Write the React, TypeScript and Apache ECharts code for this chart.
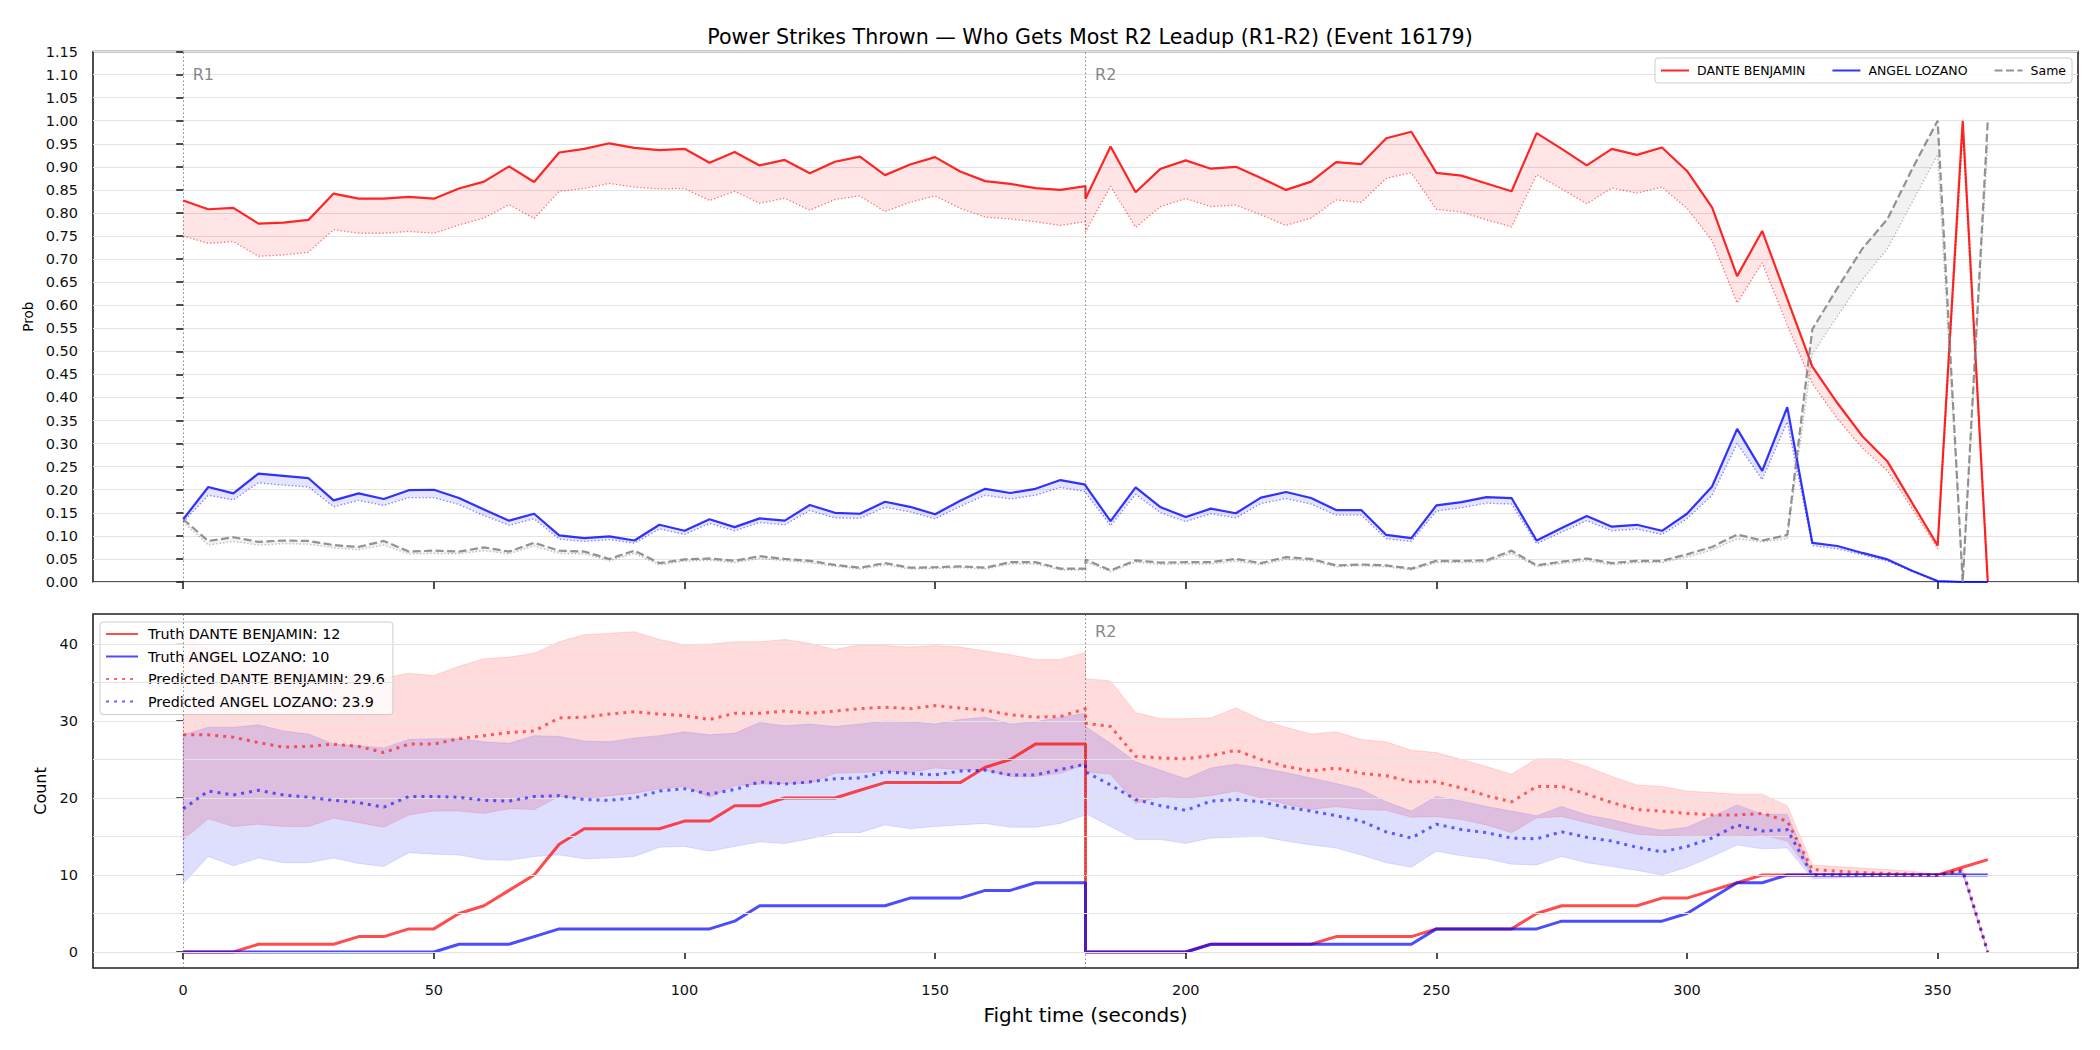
import React, { useEffect, useRef } from "react";
import * as echarts from "echarts";

// ---- Time axis: R1 samples (0..180) followed by R2 samples (180..360) ----
const TIMES = [
  0, 5, 10, 15, 20, 25, 30, 35, 40, 45, 50, 55, 60, 65, 70, 75, 80, 85, 90, 95, 100, 105, 110, 115, 120, 125, 130, 135, 140, 145, 150, 155, 160, 165, 170, 175, 180,
  180, 185, 190, 195, 200, 205, 210, 215, 220, 225, 230, 235, 240, 245, 250, 255, 260, 265, 270, 275, 280, 285, 290, 295, 300, 305, 310, 315, 320, 325, 330, 335, 340, 345, 350, 355, 360,
];

// ---- Top panel: win probabilities (upper line + lower dotted bound) ----
const PROB_DANTE = [
  0.827, 0.808, 0.811, 0.777, 0.779, 0.785, 0.842, 0.831, 0.831, 0.835, 0.831, 0.853, 0.868, 0.901, 0.867, 0.931, 0.939, 0.951, 0.941, 0.936, 0.939, 0.909, 0.932, 0.903, 0.915, 0.886, 0.911, 0.922, 0.882, 0.905, 0.921, 0.890, 0.869, 0.863, 0.854, 0.850, 0.858,
  0.831, 0.944, 0.845, 0.896, 0.914, 0.896, 0.900, 0.876, 0.850, 0.868, 0.910, 0.906, 0.962, 0.976, 0.887, 0.881, 0.864, 0.847, 0.973, 0.939, 0.903, 0.939, 0.926, 0.942, 0.891, 0.812, 0.663, 0.761, 0.614, 0.467, 0.388, 0.316, 0.261, 0.170, 0.079, 1.0, 0.0,
];
const PROB_DANTE_LO = [
  0.750, 0.734, 0.738, 0.706, 0.709, 0.715, 0.764, 0.756, 0.756, 0.760, 0.756, 0.774, 0.789, 0.818, 0.788, 0.847, 0.853, 0.864, 0.856, 0.852, 0.853, 0.827, 0.847, 0.821, 0.832, 0.806, 0.829, 0.837, 0.803, 0.823, 0.837, 0.810, 0.791, 0.787, 0.781, 0.773, 0.781,
  0.759, 0.858, 0.769, 0.814, 0.831, 0.814, 0.817, 0.796, 0.773, 0.789, 0.828, 0.823, 0.875, 0.887, 0.808, 0.802, 0.785, 0.770, 0.883, 0.852, 0.820, 0.854, 0.843, 0.856, 0.810, 0.740, 0.605, 0.692, 0.557, 0.430, 0.354, 0.290, 0.241, 0.158, 0.072, 0.970, 0.0,
];
const PROB_ANGEL = [
  0.136, 0.206, 0.192, 0.235, 0.230, 0.225, 0.177, 0.192, 0.180, 0.199, 0.200, 0.182, 0.157, 0.133, 0.148, 0.101, 0.095, 0.099, 0.090, 0.124, 0.111, 0.136, 0.119, 0.138, 0.133, 0.167, 0.150, 0.148, 0.174, 0.163, 0.147, 0.176, 0.202, 0.193, 0.202, 0.221, 0.211,
  0.209, 0.132, 0.205, 0.162, 0.141, 0.159, 0.149, 0.183, 0.195, 0.182, 0.156, 0.156, 0.102, 0.095, 0.166, 0.173, 0.184, 0.182, 0.090, 0.117, 0.143, 0.120, 0.124, 0.111, 0.148, 0.207, 0.332, 0.241, 0.379, 0.085, 0.078, 0.063, 0.049, 0.024, 0.002, 0.0, 0.0,
];
const PROB_ANGEL_LO = [
  0.130, 0.188, 0.178, 0.215, 0.210, 0.206, 0.163, 0.177, 0.166, 0.183, 0.183, 0.168, 0.144, 0.123, 0.137, 0.093, 0.088, 0.092, 0.084, 0.115, 0.103, 0.127, 0.111, 0.129, 0.124, 0.155, 0.139, 0.138, 0.162, 0.152, 0.137, 0.164, 0.188, 0.180, 0.188, 0.205, 0.196,
  0.194, 0.122, 0.190, 0.150, 0.131, 0.148, 0.139, 0.170, 0.181, 0.169, 0.145, 0.145, 0.094, 0.088, 0.154, 0.161, 0.171, 0.169, 0.083, 0.108, 0.133, 0.111, 0.115, 0.103, 0.137, 0.188, 0.300, 0.222, 0.347, 0.079, 0.072, 0.059, 0.045, 0.023, 0.0, 0.0, 0.0,
];
const PROB_SAME = [
  0.136, 0.089, 0.097, 0.087, 0.090, 0.089, 0.080, 0.076, 0.089, 0.066, 0.068, 0.066, 0.075, 0.066, 0.085, 0.068, 0.066, 0.050, 0.068, 0.041, 0.049, 0.051, 0.046, 0.056, 0.050, 0.046, 0.037, 0.031, 0.041, 0.031, 0.032, 0.034, 0.031, 0.043, 0.043, 0.029, 0.029,
  0.049, 0.025, 0.047, 0.042, 0.043, 0.043, 0.050, 0.041, 0.054, 0.050, 0.036, 0.038, 0.036, 0.029, 0.046, 0.046, 0.047, 0.068, 0.036, 0.044, 0.051, 0.041, 0.046, 0.046, 0.060, 0.076, 0.103, 0.090, 0.102, 0.548, 0.637, 0.723, 0.787, 0.897, 1.0, 0.0, 1.0,
];
const PROB_SAME_LO = [
  0.130, 0.080, 0.088, 0.080, 0.083, 0.082, 0.074, 0.070, 0.080, 0.061, 0.062, 0.061, 0.068, 0.061, 0.078, 0.062, 0.061, 0.046, 0.062, 0.037, 0.045, 0.047, 0.042, 0.051, 0.046, 0.042, 0.034, 0.028, 0.037, 0.028, 0.029, 0.031, 0.028, 0.039, 0.039, 0.026, 0.026,
  0.044, 0.022, 0.043, 0.038, 0.039, 0.039, 0.045, 0.037, 0.049, 0.046, 0.033, 0.035, 0.033, 0.026, 0.042, 0.042, 0.043, 0.062, 0.033, 0.040, 0.046, 0.037, 0.042, 0.042, 0.054, 0.069, 0.094, 0.087, 0.094, 0.494, 0.576, 0.656, 0.723, 0.825, 0.927, 0.0, 0.950,
];

// ---- Bottom panel: cumulative counts ----
const TRUTH_DANTE = [
  0, 0, 0, 1, 1, 1, 1, 2, 2, 3, 3, 5, 6, 8, 10, 14, 16, 16, 16, 16, 17, 17, 19, 19, 20, 20, 20, 21, 22, 22, 22, 22, 24, 25, 27, 27, 27,
  0, 0, 0, 0, 0, 1, 1, 1, 1, 1, 2, 2, 2, 2, 3, 3, 3, 3, 5, 6, 6, 6, 6, 7, 7, 8, 9, 10, 10, 10, 10, 10, 10, 10, 10, 11, 12,
];
const TRUTH_ANGEL = [
  0, 0, 0, 0, 0, 0, 0, 0, 0, 0, 0, 1, 1, 1, 2, 3, 3, 3, 3, 3, 3, 3, 4, 6, 6, 6, 6, 6, 6, 7, 7, 7, 8, 8, 9, 9, 9,
  0, 0, 0, 0, 0, 1, 1, 1, 1, 1, 1, 1, 1, 1, 3, 3, 3, 3, 3, 4, 4, 4, 4, 4, 5, 7, 9, 9, 10, 10, 10, 10, 10, 10, 10, 10, 10,
];
const PRED_DANTE = [
  28.2, 28.2, 27.9, 27.2, 26.6, 26.7, 27.0, 26.7, 25.9, 27.0, 27.0, 27.7, 28.1, 28.5, 28.7, 30.4, 30.5, 30.9, 31.2, 30.9, 30.7, 30.2, 31.0, 31.0, 31.3, 31.0, 31.3, 31.6, 31.8, 31.6, 32.0, 31.7, 31.4, 30.8, 30.5, 30.6, 31.6,
  29.7, 29.3, 25.4, 25.2, 25.1, 25.5, 26.2, 25.0, 24.1, 23.5, 23.9, 23.2, 22.9, 22.1, 22.1, 21.3, 20.3, 19.5, 21.5, 21.5, 20.5, 19.4, 18.5, 18.3, 18.0, 17.8, 17.8, 18.0, 17.0, 10.7, 10.5, 10.3, 10.2, 10.1, 10.0, 10.7, 0,
];
const PRED_ANGEL = [
  18.6, 20.9, 20.4, 21.0, 20.4, 20.1, 19.7, 19.4, 18.8, 20.2, 20.2, 20.1, 19.7, 19.6, 20.2, 20.3, 19.8, 19.7, 20.0, 20.9, 21.2, 20.5, 21.1, 22.1, 21.8, 22.1, 22.5, 22.6, 23.4, 23.2, 23.0, 23.5, 23.6, 23.0, 23.0, 23.7, 24.4,
  23.4, 21.7, 19.8, 19.0, 18.4, 19.6, 19.8, 19.5, 18.8, 18.3, 17.7, 17.0, 15.6, 14.8, 16.6, 15.9, 15.5, 14.8, 14.7, 15.6, 14.9, 14.4, 13.6, 13.0, 13.7, 14.8, 16.5, 15.7, 15.9, 10.0, 10.0, 10.0, 10.0, 10.0, 10.0, 10.5, 0,
];
const PRED_DANTE_HI = [
  41.0, 39.5, 38.6, 38.0, 37.4, 37.0, 36.4, 35.6, 35.6, 36.2, 35.9, 37.1, 38.1, 38.3, 38.8, 40.3, 41.2, 41.4, 41.6, 40.6, 39.9, 40.0, 40.3, 40.3, 40.6, 40.1, 39.3, 39.9, 39.8, 39.6, 39.8, 39.6, 39.1, 38.6, 38.0, 38.0, 38.9,
  35.5, 35.2, 31.1, 30.3, 30.3, 30.4, 31.7, 30.2, 29.2, 28.3, 28.6, 27.6, 27.3, 26.2, 25.9, 25.0, 24.1, 23.1, 25.1, 25.1, 24.1, 22.8, 21.7, 21.5, 20.9, 20.7, 20.5, 20.5, 19.0, 11.3, 11.1, 10.9, 10.7, 10.5, 10.1, 10.8, 0,
];
const PRED_DANTE_LO = [
  14.6, 17.3, 16.3, 16.6, 16.3, 16.3, 17.4, 16.8, 16.2, 17.8, 18.3, 18.3, 18.0, 18.6, 18.5, 20.2, 19.9, 20.3, 20.6, 21.2, 21.5, 20.1, 21.6, 21.8, 21.9, 21.9, 23.2, 23.3, 23.5, 23.3, 23.9, 23.7, 23.6, 22.8, 22.8, 23.2, 24.4,
  23.4, 23.1, 19.3, 20.2, 20.0, 20.3, 20.9, 20.0, 19.2, 18.5, 18.9, 18.5, 18.4, 17.5, 17.6, 17.2, 16.5, 15.5, 17.4, 17.6, 16.8, 16.0, 15.3, 15.1, 15.0, 15.0, 15.0, 15.2, 14.4, 10.0, 10.0, 10.0, 10.0, 10.0, 10.0, 10.3, 0,
];
const PRED_ANGEL_HI = [
  28.2, 29.2, 29.2, 29.5, 28.7, 28.3, 27.0, 26.8, 26.5, 27.6, 27.7, 27.7, 27.3, 27.1, 28.1, 28.0, 27.4, 27.3, 27.8, 28.1, 28.6, 28.2, 28.4, 29.8, 29.4, 29.6, 29.3, 29.6, 30.0, 29.9, 29.6, 30.2, 30.5, 29.6, 29.9, 30.5, 31.0,
  29.3, 27.1, 24.7, 23.6, 22.5, 23.9, 24.4, 23.9, 23.3, 22.6, 21.9, 21.1, 19.5, 18.3, 20.2, 19.6, 18.9, 18.3, 17.7, 18.9, 17.8, 17.2, 16.4, 15.8, 16.2, 17.6, 19.1, 17.9, 17.9, 10.2, 10.2, 10.2, 10.2, 10.2, 10.2, 10.3, 0,
];
const PRED_ANGEL_LO = [
  8.9, 12.4, 11.2, 12.2, 11.6, 11.6, 12.2, 11.5, 11.1, 12.9, 12.7, 12.6, 12.0, 11.9, 12.4, 12.6, 12.1, 12.2, 12.4, 13.6, 13.7, 13.1, 13.7, 14.3, 14.1, 14.7, 15.5, 15.5, 16.5, 16.0, 16.3, 16.5, 16.7, 16.2, 16.2, 16.7, 17.8,
  18.0, 16.3, 14.6, 14.6, 14.1, 14.8, 14.9, 15.0, 14.4, 13.9, 13.5, 12.6, 11.6, 11.0, 13.1, 12.5, 12.1, 11.4, 11.3, 12.4, 11.6, 11.1, 10.6, 10.0, 11.0, 12.4, 13.9, 13.4, 13.5, 9.5, 9.6, 9.7, 9.8, 9.8, 9.9, 10.0, 0,
];

const FIGHTERS = ["DANTE BENJAMIN", "ANGEL LOZANO"];
const SAME_LABEL = "Same";
const PRED_TOTALS = [29.6, 23.9];
const ROUNDS = [
  { label: "R1", t: 0 },
  { label: "R2", t: 180 },
];
const X_TICKS = [0, 50, 100, 150, 200, 250, 300, 350];
const COUNT_TICKS = [0, 10, 20, 30, 40];
const COUNT_GRID = [0, 5, 10, 15, 20, 25, 30, 35, 40];
const TITLE = "Power Strikes Thrown \u2014 Who Gets Most R2 Leadup (R1-R2) (Event 16179)";

// ---- styling ----
const FONT = "DejaVu Sans";
const X_RANGE = [-18, 378];
const PROB_RANGE = [0, 1.15];
const COUNT_RANGE = [-2.08, 43.9];
const ROUND_LABEL_DX = 2; // seconds to the right of the marker line
const ROUND_LABEL_Y = [1.116, 42.6]; // label top, per panel
const AXIS_DARK = "#222222";
const GRID_COLOR = "#e3e3e3";

const pairs = (ys: number[]) => TIMES.map((t, i) => [t, ys[i]]);

function line(name: string, panel: number, ys: number[], color: string, width: number, type: any, z: number) {
  return {
    type: "line",
    name,
    xAxisIndex: panel,
    yAxisIndex: panel,
    data: pairs(ys),
    symbol: "none",
    showSymbol: false,
    silent: true,
    z,
    lineStyle: { color, width, type },
    itemStyle: { color },
  };
}

function band(name: string, panel: number, upper: number[], lower: number[], fill: string, stroke: string | null) {
  return {
    type: "custom",
    name,
    xAxisIndex: panel,
    yAxisIndex: panel,
    silent: true,
    z: 1,
    data: [[TIMES[0], lower[0]]],
    encode: { x: 0, y: 1 },
    renderItem: (params: any, api: any) => {
      if (params.dataIndex !== 0) return null;
      const pts: number[][] = [];
      for (let i = 0; i < TIMES.length; i++) pts.push(api.coord([TIMES[i], upper[i]]));
      for (let i = TIMES.length - 1; i >= 0; i--) pts.push(api.coord([TIMES[i], lower[i]]));
      return {
        type: "polygon",
        shape: { points: pts },
        style: stroke ? { fill, stroke, lineWidth: 1 } : { fill, stroke: "none" },
      };
    },
  };
}

// Round marker lines, their labels, and (bottom panel) the horizontal grid.
function guides(panel: number, labelled: string[], withGrid: boolean) {
  const roundLine = { color: "rgba(70,70,70,0.65)", width: 1, type: [1.5, 2.5] };
  const gridLine = { color: GRID_COLOR, width: 1, type: "solid" };
  const markData: any[] = ROUNDS.map((r) => ({ xAxis: r.t, lineStyle: roundLine }));
  if (withGrid) COUNT_GRID.forEach((v) => markData.unshift({ yAxis: v, lineStyle: gridLine }));
  return {
    type: "scatter",
    name: "guides-" + panel,
    xAxisIndex: panel,
    yAxisIndex: panel,
    silent: true,
    z: 2,
    symbolSize: 1,
    itemStyle: { color: "rgba(0,0,0,0)" },
    data: ROUNDS.filter((r) => labelled.includes(r.label)).map((r) => ({
      value: [r.t + ROUND_LABEL_DX, ROUND_LABEL_Y[panel]],
      label: { formatter: r.label },
    })),
    label: {
      show: true,
      position: [0, 0],
      align: "left",
      verticalAlign: "top",
      color: "#666666",
      fontSize: 16,
      fontFamily: FONT,
    },
    markLine: {
      silent: true,
      symbol: ["none", "none"],
      label: { show: false },
      emphasis: { disabled: true },
      data: markData,
    },
  };
}

function buildOption() {
  const truthNames = FIGHTERS.map((f, i) => `Truth ${f}: ${[TRUTH_DANTE, TRUTH_ANGEL][i][TIMES.length - 1]}`);
  const predNames = FIGHTERS.map((f, i) => `Predicted ${f}: ${PRED_TOTALS[i].toFixed(1)}`);

  const tick = { show: true, length: 7, lineStyle: { color: AXIS_DARK, width: 1.6 } };
  const label = { color: "#111111", fontSize: 14.5, fontFamily: FONT };
  const legendBox = {
    backgroundColor: "rgba(255,255,255,0.8)",
    borderColor: "#cccccc",
    borderWidth: 1,
    borderRadius: 3,
    selectedMode: false,
    itemHeight: 2,
    itemStyle: { opacity: 0 },
  };

  return {
    animation: false,
    backgroundColor: "#ffffff",
    textStyle: { fontFamily: FONT },
    title: {
      text: TITLE,
      left: 1085,
      textAlign: "center",
      top: 21,
      textStyle: { fontSize: 20.6, fontWeight: "normal", color: "#000000", fontFamily: FONT },
    },
    grid: [
      { left: 93, right: 22, top: 51.5, height: 530.5, show: true, borderColor: AXIS_DARK, borderWidth: 1.6, backgroundColor: "transparent" },
      { left: 93, right: 22, top: 614, height: 354, show: true, borderColor: AXIS_DARK, borderWidth: 1.6, backgroundColor: "transparent" },
    ],
    xAxis: [
      {
        type: "value", gridIndex: 0, min: X_RANGE[0], max: X_RANGE[1],
        axisLine: { show: false }, splitLine: { show: false },
        axisTick: { ...tick, customValues: X_TICKS },
        axisLabel: { show: false, customValues: X_TICKS },
      },
      {
        type: "value", gridIndex: 1, min: X_RANGE[0], max: X_RANGE[1],
        axisLine: { show: false }, splitLine: { show: false },
        axisTick: { ...tick, customValues: X_TICKS },
        axisLabel: { ...label, margin: 14, customValues: X_TICKS },
        name: "Fight time (seconds)", nameLocation: "middle", nameGap: 37,
        nameTextStyle: { fontSize: 20, color: "#000000", fontFamily: FONT },
      },
    ],
    yAxis: [
      {
        type: "value", gridIndex: 0, min: PROB_RANGE[0], max: PROB_RANGE[1], interval: 0.05,
        axisLine: { show: false },
        splitLine: { show: true, lineStyle: { color: GRID_COLOR, width: 1 } },
        axisTick: tick,
        axisLabel: { ...label, margin: 15, formatter: (v: number) => v.toFixed(2) },
        name: "Prob", nameLocation: "middle", nameGap: 57,
        nameTextStyle: { fontSize: 13.5, color: "#000000", fontFamily: FONT },
      },
      {
        type: "value", gridIndex: 1, min: COUNT_RANGE[0], max: COUNT_RANGE[1],
        axisLine: { show: false }, splitLine: { show: false },
        axisTick: { ...tick, customValues: COUNT_TICKS },
        axisLabel: { ...label, margin: 15, customValues: COUNT_TICKS },
        name: "Count", nameLocation: "middle", nameGap: 44,
        nameTextStyle: { fontSize: 16, color: "#000000", fontFamily: FONT },
      },
    ],
    legend: [
      {
        ...legendBox,
        data: [...FIGHTERS, SAME_LABEL],
        orient: "horizontal",
        right: 28,
        top: 58,
        itemWidth: 28,
        itemGap: 26,
        padding: [6, 6, 6, 5],
        textStyle: { fontSize: 12.5, color: "#000000", fontFamily: FONT, padding: [0, 0, 0, 3] },
      },
      {
        ...legendBox,
        data: [...truthNames, ...predNames],
        orient: "vertical",
        left: 100,
        top: 622,
        itemWidth: 32,
        itemGap: 8.5,
        padding: [5, 8, 6, 5],
        textStyle: { fontSize: 14.3, color: "#000000", fontFamily: FONT, padding: [0, 0, 0, 5] },
      },
    ],
    series: [
      // top panel
      band("band-dante", 0, PROB_DANTE, PROB_DANTE_LO, "rgba(255,0,0,0.1)", null),
      band("band-angel", 0, PROB_ANGEL, PROB_ANGEL_LO, "rgba(0,0,255,0.1)", null),
      band("band-same", 0, PROB_SAME, PROB_SAME_LO, "rgba(128,128,128,0.1)", null),
      guides(0, ["R1", "R2"], false),
      line(FIGHTERS[0], 0, PROB_DANTE, "rgba(255,0,0,0.85)", 2.2, "solid", 4),
      line(FIGHTERS[0] + " lower", 0, PROB_DANTE_LO, "rgba(255,0,0,0.55)", 1.3, [1.3, 2.2], 3),
      line(FIGHTERS[1], 0, PROB_ANGEL, "rgba(0,0,255,0.8)", 2.2, "solid", 4),
      line(FIGHTERS[1] + " lower", 0, PROB_ANGEL_LO, "rgba(0,0,255,0.5)", 1.3, [1.3, 2.2], 3),
      line(SAME_LABEL, 0, PROB_SAME, "rgba(128,128,128,0.85)", 2.2, [8, 3.5], 5),
      line(SAME_LABEL + " lower", 0, PROB_SAME_LO, "rgba(128,128,128,0.55)", 1.3, [1.3, 2.2], 3),
      // bottom panel
      band("band-pred-dante", 1, PRED_DANTE_HI, PRED_DANTE_LO, "rgba(255,0,0,0.14)", "rgba(255,0,0,0.12)"),
      band("band-pred-angel", 1, PRED_ANGEL_HI, PRED_ANGEL_LO, "rgba(0,0,255,0.13)", "rgba(0,0,255,0.1)"),
      guides(1, ["R2"], true),
      line(truthNames[0], 1, TRUTH_DANTE, "rgba(255,0,0,0.7)", 3, "solid", 3),
      line(truthNames[1], 1, TRUTH_ANGEL, "rgba(0,0,255,0.7)", 3, "solid", 4),
      line(predNames[0], 1, PRED_DANTE, "rgba(255,0,0,0.6)", 3, [3, 5], 5),
      line(predNames[1], 1, PRED_ANGEL, "rgba(0,0,255,0.6)", 3, [3, 5], 6),
    ],
  };
}

export default function App() {
  const ref = useRef<HTMLDivElement>(null);
  useEffect(() => {
    if (!ref.current) return;
    const chart = echarts.init(ref.current, null, { renderer: "svg" });
    chart.setOption(buildOption() as any);
    return () => chart.dispose();
  }, []);
  return (
    <div
      ref={ref}
      style={{ position: "fixed", left: 0, top: 0, width: 2100, height: 1050, background: "#ffffff" }}
    />
  );
}
